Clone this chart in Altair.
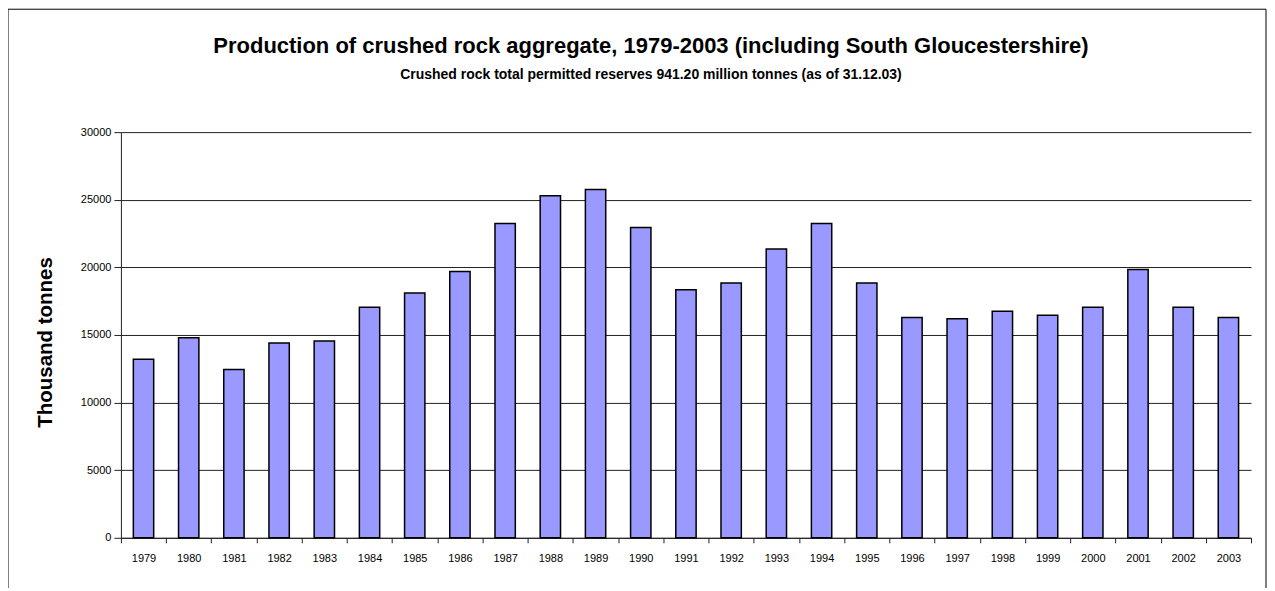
import altair as alt
import pandas as pd

years = ["1979", "1980", "1981", "1982", "1983", "1984", "1985", "1986", "1987",
         "1988", "1989", "1990", "1991", "1992", "1993", "1994", "1995", "1996",
         "1997", "1998", "1999", "2000", "2001", "2002", "2003"]
production = [13200, 14800, 12450, 14400, 14550, 17050, 18100, 19700, 23250,
              25300, 25750, 22950, 18350, 18850, 21350, 23250, 18850, 16300,
              16200, 16750, 16450, 17050, 19850, 17050, 16300]
y_ticks = [0, 5000, 10000, 15000, 20000, 25000, 30000]

title_text = "Production of crushed rock aggregate, 1979-2003 (including South Gloucestershire)"
subtitle_text = "Crushed rock total permitted reserves 941.20 million tonnes (as of 31.12.03)"

df = pd.DataFrame({"year": years, "value": production})

FONT = "Liberation Sans"

bars = alt.Chart(df).mark_bar(
    color="#9999FF", stroke="black", strokeWidth=1.5,
    width=alt.RelativeBandSize(0.45)
).encode(
    x=alt.X("year:O", sort=years,
            scale=alt.Scale(paddingInner=0, paddingOuter=0),
            axis=alt.Axis(title=None, labelAngle=0, tickBand="extent",
                          tickSize=5, labelPadding=10, grid=False)),
    y=alt.Y("value:Q", scale=alt.Scale(domain=[0, 30000], nice=False),
            axis=alt.Axis(title="Thousand tonnes", values=y_ticks, format="d",
                          tickSize=7, labelPadding=3, grid=True,
                          titleX=-75, titleY=210, titleAngle=-90,
                          titleAlign="center", titleBaseline="middle",
                          titleFontSize=20.5, titleFontWeight="bold",
                          titleFont=FONT, titleColor="black"))
)

frame = alt.Chart(pd.DataFrame({"a": [0]})).mark_rect(
    fillOpacity=0, stroke="black", strokeWidth=1
).encode(
    x=alt.value(-113), x2=alt.value(1146),
    y=alt.value(-123), y2=alt.value(480)
)

chart = alt.layer(bars, frame).properties(
    width=1131, height=406,
    autosize=alt.AutoSizeParams(type="none"),
    padding={"left": 113, "top": 124, "right": 16, "bottom": 50},
    title=alt.TitleParams(
        text=title_text, subtitle=subtitle_text,
        font=FONT, fontSize=22, fontWeight="bold", color="black",
        subtitleFont=FONT, subtitleFontSize=14, subtitleFontWeight="bold",
        subtitleColor="black", subtitlePadding=10,
        anchor="middle", dx=-35, offset=-74
    )
).configure_view(
    stroke="transparent"
).configure_axis(
    labelFont=FONT, labelFontSize=11, labelColor="black",
    domainColor="#222", tickColor="#222", gridColor="#222",
    domainWidth=1, tickWidth=1, gridWidth=1
)

chart.save("out.html", embed_options={"renderer": "svg", "actions": False})
